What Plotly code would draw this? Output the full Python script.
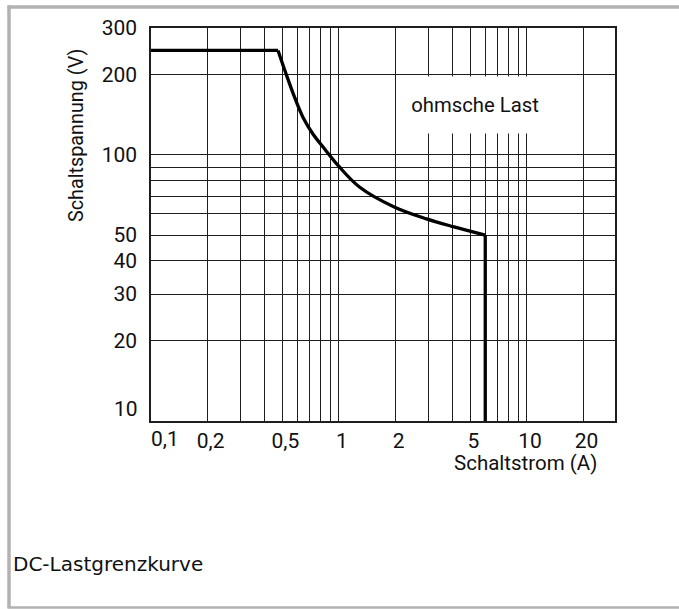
import numpy as np
import plotly.graph_objects as go

# ---- data ----
current_a = [0.1, 0.474, 0.52, 0.581, 0.644, 0.727, 0.839, 1.0, 1.29, 1.98, 2.92, 4.04, 6.0, 6.0]
voltage_v = [247, 247, 204, 164.5, 138.4, 119.9, 105.3, 90.5, 75.6, 63.6, 57.5, 53.8, 50, 10]

x_grid = [0.1, 0.2, 0.3, 0.4, 0.5, 0.6, 0.7, 0.8, 0.9, 1, 2, 3, 4, 5, 6, 7, 8, 9, 10, 20]
x_label_map = {0.2: "0,2", 0.5: "0,5", 1: "1", 2: "2", 5: "5", 10: "10", 20: "20"}
y_grid = [10, 20, 30, 40, 50, 60, 70, 80, 90, 100, 200, 300]
y_label_map = {20: "20", 30: "30", 40: "40", 50: "50", 100: "100", 200: "200", 300: "300"}
corner_x_label = (0.1, "0,1")
corner_y_label = (10, "10")

x_title = "Schaltstrom (A)"
y_title = "Schaltspannung (V)"
note_text = "ohmsche Last"
caption = "DC-Lastgrenzkurve"
note_pos = (5.27, 154)

W, H = 679, 609
ML, MR, MT, MB = 151, 64, 28, 188
PW, PH = W - ML - MR, H - MT - MB

def px(x):  # pixel -> paper x
    return (x - ML) / PW

def py(y):  # pixel -> paper y
    return (H - MB - y) / PH

def F(size):
    return dict(family="Roboto, sans-serif", size=size, color="#111")

GRID = "#1e1e1e"

fig = go.Figure()
segments = [(0, 2, "linear"), (1, 13, "spline"), (12, 14, "linear")]
for a, b, shape in segments:
    fig.add_trace(go.Scatter(x=current_a[a:b], y=voltage_v[a:b], mode="lines",
                             line=dict(color="black", width=3.3, shape=shape, smoothing=1.0),
                             hoverinfo="skip", showlegend=False))

fig.update_xaxes(type="log", range=[-1, np.log10(29.4)],
                 tickvals=x_grid, ticktext=[x_label_map.get(v, "") for v in x_grid],
                 showgrid=True, gridcolor=GRID, gridwidth=1.3,
                 showline=True, linecolor=GRID, linewidth=1.5, mirror=True,
                 ticks="", ticklabelshift=3, zeroline=False, tickfont=F(21))
fig.update_yaxes(type="log", range=[1, np.log10(300)],
                 tickvals=y_grid, ticktext=[y_label_map.get(v, "") for v in y_grid],
                 showgrid=True, gridcolor=GRID, gridwidth=1.3,
                 showline=True, linecolor=GRID, linewidth=1.5, mirror=True,
                 ticks="", ticklabelstandoff=8, zeroline=False, tickfont=F(21))

ann = []
ann.append(dict(text=corner_x_label[1], xref="x", x=np.log10(corner_x_label[0]), xanchor="center",
                xshift=14, yref="paper", y=0, yanchor="middle", yshift=-18,
                showarrow=False, font=F(21)))
ann.append(dict(text=corner_y_label[1], xref="paper", x=0, xanchor="right", xshift=-11,
                yref="y", y=np.log10(corner_y_label[0]), yanchor="middle", yshift=12,
                showarrow=False, font=F(21)))
ann.append(dict(text=y_title, textangle=-90, xref="paper", x=px(76), xanchor="center",
                yref="paper", y=py(136), yanchor="middle", showarrow=False, font=F(19.8)))
ann.append(dict(text=x_title, xref="paper", x=px(599), xanchor="right",
                yref="paper", y=py(463), yanchor="middle", showarrow=False, font=F(20.5)))
ann.append(dict(text=note_text, xref="x", x=np.log10(note_pos[0]), yref="y", y=np.log10(note_pos[1]),
                xanchor="center", yanchor="middle", showarrow=False, bgcolor="white",
                width=140, height=54, font=F(20.3)))
ann.append(dict(text=caption, xref="paper", x=px(11), xanchor="left",
                yref="paper", y=py(564), yanchor="middle", showarrow=False,
                font=dict(family="DejaVu Sans, sans-serif", size=20, color="#111")))

FRAME = "#b2b2b2"
shapes = [
    dict(type="line", xref="paper", yref="paper", x0=px(7.5), x1=px(679), y0=py(7), y1=py(7),
         line=dict(color=FRAME, width=3.5)),
    dict(type="line", xref="paper", yref="paper", x0=px(9), x1=px(9), y0=py(5.5), y1=py(608),
         line=dict(color=FRAME, width=3.5)),
    dict(type="line", xref="paper", yref="paper", x0=px(7.5), x1=px(679), y0=py(607.5), y1=py(607.5),
         line=dict(color=FRAME, width=2.5)),
]

fig.update_layout(width=W, height=H, margin=dict(l=ML, r=MR, t=MT, b=MB),
                  paper_bgcolor="white", plot_bgcolor="white",
                  annotations=ann, shapes=shapes, showlegend=False)

fig.write_html("out.html", config={"displayModeBar": False},
               post_script="document.body.style.margin='0';document.body.style.overflow='hidden';")
